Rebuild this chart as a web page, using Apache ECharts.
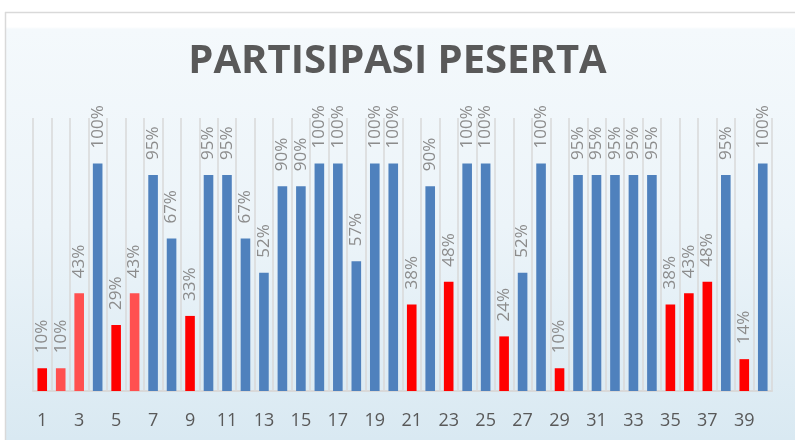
<!DOCTYPE html>
<html>
<head>
<meta charset="utf-8">
<script src="https://cdn.jsdelivr.net/npm/echarts@6/dist/echarts.min.js"></script>
<style>html,body{margin:0;padding:0;background:#fff}#c{width:795px;height:440px}</style>
</head>
<body>
<div id="c"></div>
<script>
var titleText = 'PARTISIPASI PESERTA';
var categories = ['1','2','3','4','5','6','7','8','9','10','11','12','13','14','15','16','17','18','19','20',
  '21','22','23','24','25','26','27','28','29','30','31','32','33','34','35','36','37','38','39','40'];
var participation = [0.10,0.10,0.43,1.00,0.29,0.43,0.95,0.67,0.33,0.95,
  0.95,0.67,0.52,0.90,0.90,1.00,1.00,0.57,1.00,1.00,
  0.38,0.90,0.48,1.00,1.00,0.24,0.52,1.00,0.10,0.95,
  0.95,0.95,0.95,0.95,0.38,0.43,0.48,0.95,0.14,1.00];
// categories drawn in the lighter red tone
var lightRedCategories = ['2','3','6'];

var chart = echarts.init(document.getElementById('c'), null, {renderer:'canvas'});
var data = participation.map(function(v, i){
  var col = v >= 0.5 ? '#4F81BD' : (lightRedCategories.indexOf(categories[i]) >= 0 ? '#FF5050' : '#FF0000');
  return {value: v, itemStyle: {color: col}};
});
chart.setOption({
  backgroundColor: '#ffffff',
  graphic: [
    {type:'rect', shape:{x:5, y:12, width:790, height:428}, z:-10, silent:true,
     style:{fill:new echarts.graphic.LinearGradient(0,0,0,1,[
       {offset:0, color:'#ffffff'},
       {offset:0.035, color:'#ffffff'},
       {offset:0.04, color:'#f4f9fc'},
       {offset:0.5, color:'#ecf4f9'},
       {offset:1, color:'#d9e9f2'}])}},
    {type:'line', shape:{x1:5, y1:12.5, x2:795, y2:12.5}, z:-5, silent:true, style:{stroke:'#d9d9d9', lineWidth:1.5}},
    {type:'line', shape:{x1:5.5, y1:12, x2:5.5, y2:440}, z:-5, silent:true, style:{stroke:'#d9d9d9', lineWidth:1.5}}
  ],
  title: {
    text: titleText, left: 'center', top: 37,
    textStyle: {fontFamily:'Open Sans', fontWeight:'bold', fontSize:40, color:'#595959'}
  },
  grid: {left:33, right:23, top:118, bottom:49},
  xAxis: {
    type:'category', data: categories, boundaryGap:true,
    axisLine:{show:true, lineStyle:{color:'#d9d9d9', width:2}},
    axisTick:{show:false},
    axisLabel:{interval:1, fontFamily:'Open Sans', fontSize:18, color:'#595959', margin:21},
    splitLine:{show:true, interval:0, lineStyle:{color:'#d9d9d9', width:1.5}}
  },
  yAxis: {type:'value', min:0, max:1.2, show:false, splitLine:{show:false}},
  series: [{
    type:'bar', data: data, barWidth:'52%',
    label: {
      show:true, position:'top', rotate:90, align:'left', verticalAlign:'middle', distance:15,
      fontFamily:'Open Sans', fontSize:17, color:'#8c8c8c',
      formatter: function(p){ return Math.round(p.value*100) + '%'; }
    }
  }],
  animation:false
});
</script>
</body>
</html>
